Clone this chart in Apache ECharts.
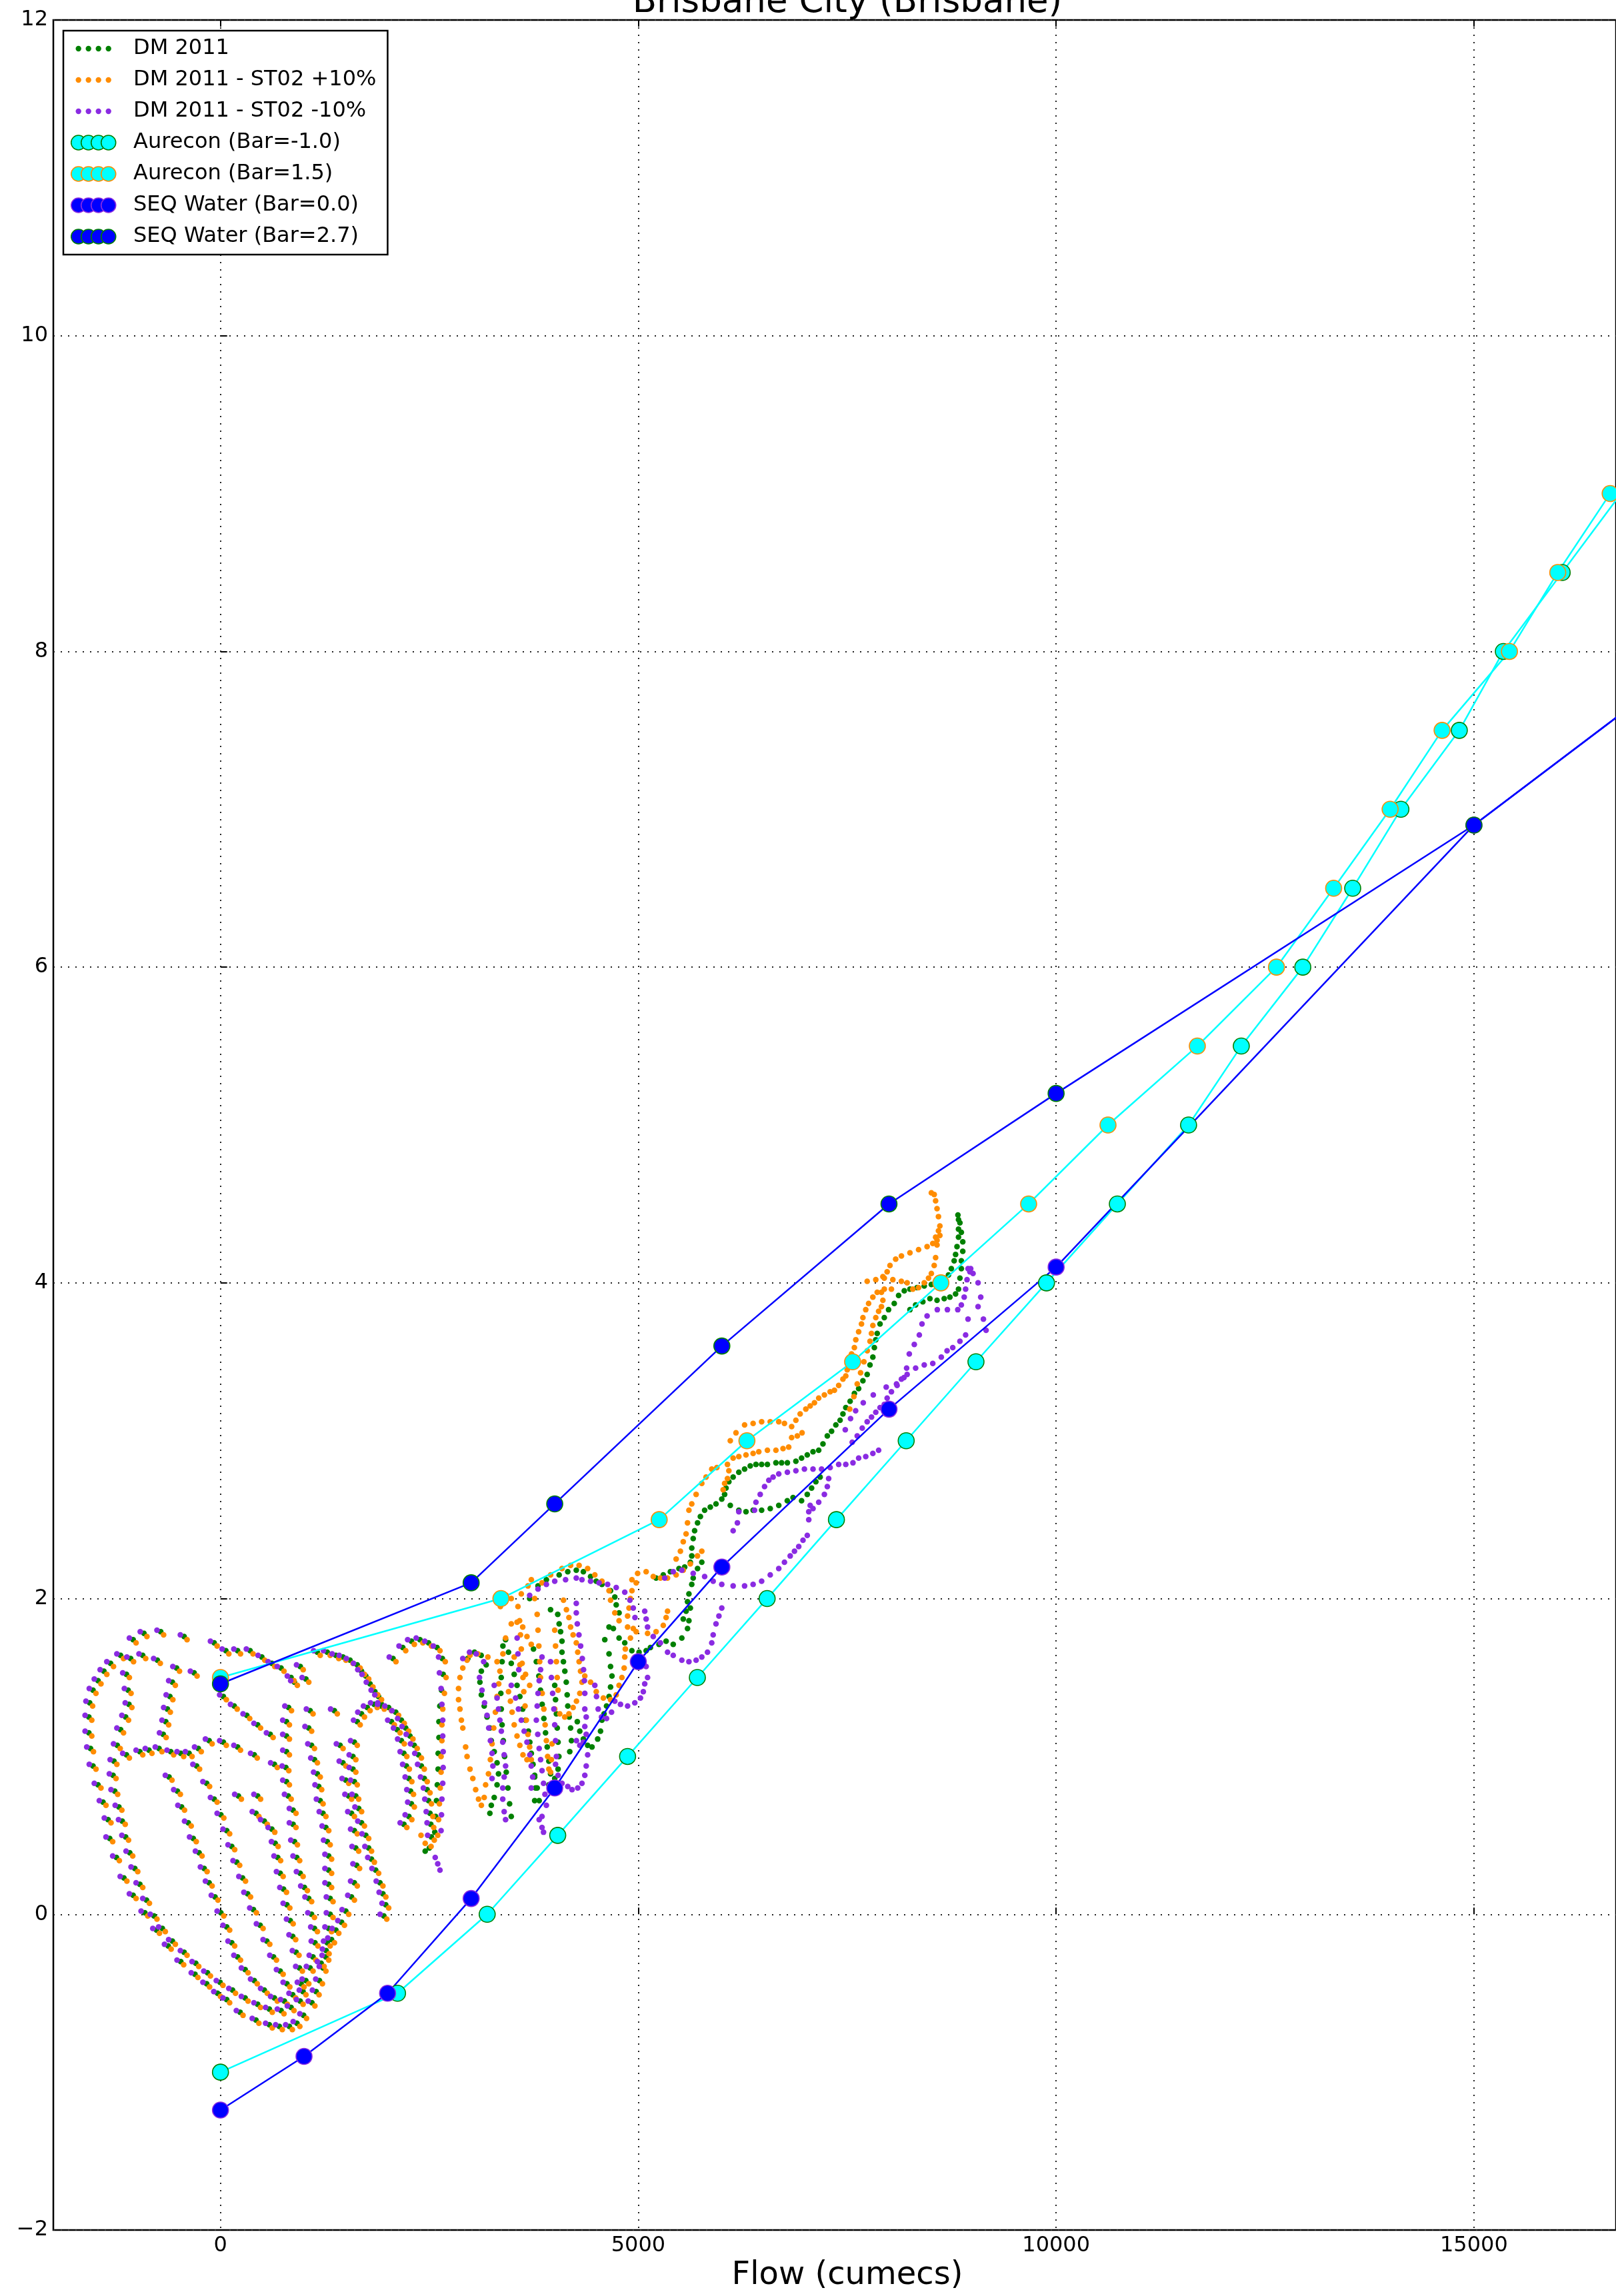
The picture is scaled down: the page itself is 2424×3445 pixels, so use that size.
<!DOCTYPE html>
<html lang="en">
<head>
<meta charset="UTF-8">
<title>Brisbane City (Brisbane)</title>
<script src="https://cdn.jsdelivr.net/npm/echarts@6/dist/echarts.min.js"></script>
<style>
  html, body { margin: 0; padding: 0; background: #fff; }
  #chart { width: 2424px; height: 3445px; }
</style>
</head>
<body>
<div id="chart"></div>
<script>
// axis ticks
var xTicks = [0, 5000, 10000, 15000];
var yTicks = [-2, 0, 2, 4, 6, 8, 10, 12];

// Aurecon rating curves (flow, level)
var aurLoX = [0, 2119, 3192, 4036, 4872, 5707, 6542, 7371, 8206, 9041, 9885, 10733, 11585, 12216, 12952, 13549, 14126, 14825, 15352, 16056, 16760];
var aurLoY = [-1.0, -0.5, 0.0, 0.5, 1.0, 1.5, 2.0, 2.5, 3.0, 3.5, 4.0, 4.5, 5.0, 5.5, 6.0, 6.5, 7.0, 7.5, 8.0, 8.5, 9.0];
var aurHiX = [0, 3356, 5250, 6300, 7565, 8621, 9671, 10621, 11690, 12637, 13321, 13997, 14619, 15425, 16003, 16630];
var aurHiY = [1.5, 2.0, 2.5, 3.0, 3.5, 4.0, 4.5, 5.0, 5.5, 6.0, 6.5, 7.0, 7.5, 8.0, 8.5, 9.0];

// SEQ Water rating curves
var seqLoX = [0, 1000, 2000, 3000, 4000, 5000, 6000, 8000, 10000, 15000, 17000];
var seqLoY = [-1.24, -0.9, -0.5, 0.1, 0.8, 1.6, 2.2, 3.2, 4.1, 6.9, 7.7];
var seqHiX = [0, 3000, 4000, 6000, 8000, 10000, 15000, 17000];
var seqHiY = [1.46, 2.1, 2.6, 3.6, 4.5, 5.2, 6.9, 7.7];

// DM 2011 modelled stage/flow
var dmBase = [
[-75,1.72],[-435,1.76],[-715,1.79],[-915,1.78],[-1045,1.74],[-1195,1.64],[-1315,1.59],[-1395,1.54],[-1465,1.48],[-1525,1.42],[-1565,1.34],[-1575,1.25],[-1575,1.15],[-1555,1.05],[-1525,0.94],[-1465,0.82],[-1405,0.71],[-1345,0.60],[-1325,0.48],[-1245,0.36],[-1155,0.23],[-1045,0.12],[-905,0.01],[-765,-0.10],[-625,-0.20],[-475,-0.30],[-305,-0.38],[-165,-0.44],[-35,-0.50],[75,-0.54],[235,-0.62],[425,-0.67],[585,-0.70],[705,-0.71],[825,-0.71],[915,-0.69],[995,-0.64],
[-755,1.61],[-930,1.64],[-1075,1.62],[-1125,1.52],[-1105,1.42],[-1095,1.33],[-1135,1.25],[-1195,1.17],[-1235,1.07],[-1275,0.97],[-1285,0.88],[-1265,0.78],[-1215,0.68],[-1175,0.59],[-1135,0.49],[-1085,0.39],[-1025,0.29],[-965,0.19],[-885,0.09],[-795,-0.01],[-695,-0.09],[-575,-0.17],[-435,-0.24],[-295,-0.31],[-155,-0.37],[-5,-0.43],[145,-0.48],[295,-0.53],[445,-0.57],[585,-0.60],[725,-0.61],[845,-0.59],
[-315,1.53],[-525,1.56],[-575,1.47],[-605,1.38],[-635,1.30],[-655,1.22],[-685,1.14],[-855,1.04],[-965,1.03],[-1125,1.01],[-735,1.05],[-595,1.03],[-475,1.02],[-375,1.02],[-265,1.05],[-135,1.10],[35,1.09],[205,1.06],[405,1.01],[645,0.95],
[-615,0.87],[-515,0.78],[-465,0.68],[-385,0.58],[-325,0.48],[-255,0.39],[-195,0.29],[-135,0.20],[-65,0.11],[5,0.01],[75,-0.08],[135,-0.18],[205,-0.27],[295,-0.35],[405,-0.42],[525,-0.48],[645,-0.53],[765,-0.55],
[-285,0.94],[-165,0.83],[-75,0.73],[5,0.63],[75,0.53],[135,0.43],[195,0.33],[265,0.23],[325,0.13],[395,0.03],[475,-0.07],[555,-0.17],[635,-0.27],[715,-0.36],[795,-0.44],[865,-0.51],
[35,1.38],[165,1.32],[315,1.26],[445,1.20],[595,1.14],[215,0.75],[445,0.75],[425,0.64],[525,0.59],[615,0.54],[655,0.45],[685,0.36],[715,0.26],[755,0.16],[795,0.06],[835,-0.04],[865,-0.14],[905,-0.24],[945,-0.34],[965,-0.44],
[65,1.67],[205,1.67],[355,1.67],[495,1.63],[615,1.59],[725,1.56],[845,1.50],
[955,1.57],[885,1.47],[815,1.31],[790,1.22],[790,1.13],[790,1.03],[783,0.93],[790,0.84],[811,0.75],[869,0.66],[869,0.57],[886,0.46],[913,0.36],[954,0.26],[1005,0.17],[1056,0.10],[1090,0.00],[1125,-0.09],[1131,-0.18],[1107,-0.27],[1073,-0.34],[1022,-0.42],[988,-0.49],[954,-0.55],
[1022,1.49],[1073,1.29],[1056,1.18],[1090,1.07],[1125,0.98],[1159,0.89],[1176,0.81],[1193,0.72],[1227,0.64],[1261,0.55],[1278,0.46],[1295,0.37],[1295,0.28],[1295,0.19],[1312,0.10],[1312,0.00],[1295,-0.09],[1278,-0.18],[1261,-0.27],[1227,-0.34],[1185,-0.42],[1145,-0.49],[1095,-0.56],
[1363,1.29],[1432,1.07],[1466,0.96],[1500,0.85],[1534,0.75],[1568,0.64],[1602,0.53],[1619,0.42],[1630,0.31],[1602,0.20],[1568,0.11],[1500,0.02],[1449,-0.05],[1381,-0.10],[1329,-0.16],[1265,-0.23],[1205,-0.31],
[1159,1.66],[1278,1.66],[1381,1.64],[1466,1.63],[1551,1.61],[1637,1.58],[1688,1.54],[1739,1.51],[1790,1.46],[1848,1.41],[1892,1.38],[1925,1.32],
[1637,1.22],[1688,1.27],[1756,1.31],[1841,1.33],[1927,1.33],[2012,1.31],[2097,1.28],[2165,1.23],[2217,1.18],[2268,1.13],[2319,1.07],[2370,1.01],[2404,0.94],[2439,0.86],[2473,0.79],[2490,0.72],[2507,0.64],[2517,0.57],[2524,0.49],[2500,0.42],[2450,0.40],
[1602,1.09],[1585,1.00],[1585,0.92],[1602,0.84],[1619,0.75],[1654,0.67],[1688,0.58],[1739,0.50],[1773,0.42],[1807,0.35],[1858,0.28],[1909,0.20],[1944,0.13],[1978,0.06],[1955,-0.01],
[2065,1.62],[2182,1.69],[2285,1.73],[2387,1.74],[2490,1.72],[2592,1.69],[2655,1.62],[2665,1.52],[2645,1.42],[2625,1.32],[2615,1.22],[2615,1.12],[2605,1.02],[2605,0.92],[2595,0.82],[2585,0.72],[2575,0.62],[2565,0.52],
[2046,1.22],[2115,1.17],[2165,1.10],[2195,1.02],[2225,0.94],[2255,0.86],[2275,0.78],[2285,0.70],[2255,0.62],[2195,0.57],
[3122,1.54],[3105,1.47],[3122,1.39],[3156,1.32],[3190,1.25],[3224,1.18],[3241,1.10],[3276,1.03],[3310,0.96],[3327,0.89],[3310,0.82],[3276,0.74],[3241,0.69],[3224,0.64],
[2960,1.62],[3040,1.66],[3120,1.64],[3180,1.58],
[3380,1.70],[3370,1.60],[3360,1.50],[3355,1.40],[3360,1.30],[3370,1.20],[3385,1.10],[3400,1.00],[3420,0.90],[3440,0.80],[3460,0.70],[3480,0.62],
[3412,1.74],[3447,1.66],[3480,1.59],[3515,1.52],[3549,1.45],[3583,1.38],[3617,1.30],[3651,1.23],[3685,1.16],[3702,1.09],[3720,1.02],[3740,0.95],[3760,0.88],[3770,0.80],[3760,0.72],
[3746,1.68],[3780,1.60],[3810,1.51],[3830,1.42],[3850,1.33],[3870,1.24],[3890,1.15],[3910,1.06],[3930,0.97],[3950,0.89],[3930,0.82],
[3760,0.87],[3790,0.80],[3814,0.72],
[4000,1.45],[4010,1.36],[4020,1.27],[4030,1.18],[4040,1.09],[4050,1.00],[4040,0.92],[4000,0.86],
[3950,1.93],[4036,1.90],[4053,1.84],[4070,1.79],[4087,1.73],[4087,1.66],[4104,1.60],[4121,1.54],[4138,1.47],[4149,1.39],[4156,1.32],[4173,1.25],[4190,1.18],[4200,1.10],[4180,1.03],
[4599,1.74],[4650,1.82],[4702,1.81],[4770,1.75],[4838,1.72],[4923,1.67],[5009,1.66],[5094,1.67],[5145,1.69],[5248,1.71],[5333,1.73],[5418,1.71],[5521,1.75],[5589,1.81],[5606,1.86],[5623,1.94],
[4650,1.65],[4668,1.57],[4685,1.51],[4668,1.44],[4650,1.38],[4620,1.32],[4590,1.27],
[4565,1.23],[4548,1.16],[4514,1.11],[4446,1.06],[4394,1.07],[4343,1.11],[4300,1.16],[4270,1.22],
[3700,2.00],[3800,2.08],[3900,2.12],[4053,2.15],[4156,2.17],[4258,2.18],[4343,2.17],[4429,2.14],[4497,2.11],[4565,2.09],[4668,2.05],[4719,2.01],[4736,1.96],[4770,1.91],
[5213,2.13],[5299,2.15],[5384,2.17],[5487,2.19],[5555,2.20],[5623,2.23],
[5538,1.87],[5572,1.92],[5589,1.98],[5606,2.03],[5640,2.09],[5657,2.13],[5709,2.19],[5760,2.23],
[5640,2.27],[5640,2.32],[5657,2.38],[5674,2.43],[5709,2.48],[5743,2.52],[5794,2.56],[5862,2.58],[5930,2.60],[5999,2.63],[6033,2.66],[6050,2.70],[6084,2.74],[6135,2.77],[6203,2.80],[6272,2.82],[6340,2.84],[6408,2.85],[6476,2.85],[6545,2.85],[6647,2.86],[6715,2.86],[6784,2.86],[6886,2.87],
[6101,2.59],[6203,2.56],[6289,2.55],[6374,2.56],[6476,2.56],[6579,2.57],[6681,2.59],[6783,2.62],[6852,2.64],[6954,2.62],[7022,2.66],[7074,2.70],[7125,2.74],[7176,2.77],
[6954,2.89],[7022,2.91],[7091,2.93],[7159,2.94],[7210,2.98],[7262,3.03],[7313,3.06],[7364,3.10],[7415,3.13],[7449,3.17],[7483,3.21],[7535,3.25],[7586,3.30],[7637,3.33],[7688,3.38],[7739,3.42],[7773,3.48],[7807,3.53],[7825,3.59],[7842,3.64],[7859,3.68],[7893,3.74],[7944,3.78],[7995,3.83],[8063,3.87],[8115,3.92],[8183,3.95],
[8251,3.96],[8336,3.97],[8422,3.98],[8507,3.99],[8593,4.00],[8661,4.03],[8712,4.05],[8746,4.09],[8780,4.14],[8797,4.18],[8814,4.23],[8832,4.29],[8832,4.34],[8832,4.40],[8825,4.43],
[8849,4.38],[8866,4.32],[8883,4.26],[8883,4.20],[8866,4.14],[8866,4.09],[8849,4.03],[8832,3.96],
[8797,3.93],[8729,3.91],[8661,3.90],[8575,3.89],[8490,3.90],[8405,3.88],[8319,3.86],[8251,3.83]
];

var dmPlus = [
[-40,1.70],[-400,1.74],[-680,1.77],[-880,1.76],[-1010,1.72],[-1160,1.62],[-1280,1.57],[-1360,1.52],[-1430,1.46],[-1490,1.40],[-1530,1.32],[-1540,1.23],[-1540,1.13],[-1520,1.03],[-1490,0.92],[-1430,0.80],[-1370,0.69],[-1310,0.58],[-1290,0.46],[-1210,0.34],[-1120,0.21],[-1010,0.10],[-870,-0.01],[-730,-0.12],[-590,-0.22],[-440,-0.32],[-270,-0.40],[-130,-0.46],[0,-0.52],[110,-0.56],[270,-0.64],[460,-0.69],[620,-0.72],[740,-0.73],[860,-0.73],[950,-0.71],[1030,-0.66],
[-720,1.59],[-895,1.62],[-1040,1.60],[-1090,1.50],[-1070,1.40],[-1060,1.31],[-1100,1.23],[-1160,1.15],[-1200,1.05],[-1240,0.95],[-1250,0.86],[-1230,0.76],[-1180,0.66],[-1140,0.57],[-1100,0.47],[-1050,0.37],[-990,0.27],[-930,0.17],[-850,0.07],[-760,-0.03],[-660,-0.11],[-540,-0.19],[-400,-0.26],[-260,-0.33],[-120,-0.39],[30,-0.45],[180,-0.50],[330,-0.55],[480,-0.59],[620,-0.62],[760,-0.63],[880,-0.61],
[-280,1.51],[-490,1.54],[-540,1.45],[-570,1.36],[-600,1.28],[-620,1.20],[-650,1.12],[-820,1.02],[-930,1.01],[-1090,0.99],[-700,1.03],[-560,1.01],[-440,1.00],[-340,1.00],[-230,1.03],[-100,1.08],[70,1.07],[240,1.04],[440,0.99],[680,0.93],
[-580,0.85],[-480,0.76],[-430,0.66],[-350,0.56],[-290,0.46],[-220,0.37],[-160,0.27],[-100,0.18],[-30,0.09],[40,-0.01],[110,-0.10],[170,-0.20],[240,-0.29],[330,-0.37],[440,-0.44],[560,-0.50],[680,-0.55],[800,-0.57],
[-250,0.92],[-130,0.81],[-40,0.71],[40,0.61],[110,0.51],[170,0.41],[230,0.31],[300,0.21],[360,0.11],[430,0.01],[510,-0.09],[590,-0.19],[670,-0.29],[750,-0.38],[830,-0.46],[900,-0.53],
[70,1.36],[200,1.30],[350,1.24],[480,1.18],[630,1.12],[250,0.73],[480,0.73],[460,0.62],[560,0.57],[650,0.52],[690,0.43],[720,0.34],[750,0.24],[790,0.14],[830,0.04],[870,-0.06],[900,-0.16],[940,-0.26],[980,-0.36],[1000,-0.46],
[100,1.65],[240,1.65],[390,1.65],[530,1.61],[650,1.57],[760,1.54],[880,1.48],
[990,1.55],[920,1.45],[850,1.29],[825,1.20],[825,1.11],[825,1.01],[818,0.91],[825,0.82],[846,0.73],[904,0.64],[904,0.55],[921,0.44],[948,0.34],[989,0.24],[1040,0.15],[1091,0.08],[1125,-0.02],[1160,-0.11],[1166,-0.20],[1142,-0.29],[1108,-0.36],[1057,-0.44],[1023,-0.51],[989,-0.57],
[1057,1.47],[1108,1.27],[1091,1.16],[1125,1.05],[1160,0.96],[1194,0.87],[1211,0.79],[1228,0.70],[1262,0.62],[1296,0.53],[1313,0.44],[1330,0.35],[1330,0.26],[1330,0.17],[1347,0.08],[1347,-0.02],[1330,-0.11],[1313,-0.20],[1296,-0.29],[1262,-0.36],[1220,-0.44],[1180,-0.51],[1130,-0.58],
[1398,1.27],[1467,1.05],[1501,0.94],[1535,0.83],[1569,0.73],[1603,0.62],[1637,0.51],[1654,0.40],[1665,0.29],[1637,0.18],[1603,0.09],[1535,0.00],[1484,-0.07],[1416,-0.12],[1364,-0.18],[1300,-0.25],[1240,-0.33],
[1194,1.64],[1313,1.64],[1416,1.62],[1501,1.61],[1586,1.59],[1672,1.56],[1723,1.52],[1774,1.49],[1825,1.44],[1883,1.39],[1927,1.36],[1960,1.30],
[1672,1.20],[1723,1.25],[1791,1.29],[1876,1.31],[1962,1.31],[2047,1.29],[2132,1.26],[2200,1.21],[2252,1.16],[2303,1.11],[2354,1.05],[2405,0.99],[2439,0.92],[2474,0.84],[2508,0.77],[2525,0.70],[2542,0.62],[2552,0.55],[2559,0.47],[2520,0.43],[2450,0.45],[2400,0.50],
[1637,1.07],[1620,0.98],[1620,0.90],[1637,0.82],[1654,0.73],[1689,0.65],[1723,0.56],[1774,0.48],[1808,0.40],[1842,0.33],[1893,0.26],[1944,0.18],[1979,0.11],[2013,0.04],[1990,-0.03],
[2100,1.60],[2217,1.67],[2320,1.71],[2422,1.72],[2525,1.70],[2627,1.67],[2690,1.60],[2700,1.50],[2680,1.40],[2660,1.30],[2650,1.20],[2650,1.10],[2640,1.00],[2640,0.90],[2630,0.80],[2620,0.70],[2610,0.60],[2600,0.50],
[2081,1.20],[2150,1.15],[2200,1.08],[2230,1.00],[2260,0.92],[2290,0.84],[2310,0.76],[2320,0.68],[2290,0.60],[2230,0.55],
[2986,1.64],[3080,1.65],[3200,1.63],[3310,1.60],
[2951,1.61],[2900,1.56],[2866,1.50],[2849,1.43],[2849,1.36],[2866,1.30],[2883,1.23],[2900,1.18],[2934,1.06],[2951,1.00],[2986,0.92],[3020,0.86],[3054,0.79],[3088,0.73],[3122,0.69],[3156,0.74],[3173,0.82],[3207,0.89],[3230,0.98],[3250,1.08],[3270,1.18],[3290,1.28],[3310,1.38],[3330,1.46],[3344,1.54],[3380,1.65],[3412,1.75],[3480,1.84],[3549,1.85],[3617,1.82],[3668,1.76],[3719,1.71],
[3350,1.95],[3380,2.00],[3420,2.02],[3480,2.00],
[3447,1.41],[3470,1.35],[3490,1.28],[3515,1.20],[3549,1.13],[3583,1.07],[3620,1.01],[3668,0.98],[3719,0.98],
[3515,1.63],[3583,1.58],[3651,1.52],[3700,1.45],
[3560,1.95],[3580,1.86],[3590,1.77],[3600,1.68],[3610,1.59],[3620,1.50],[3630,1.41],[3645,1.32],[3660,1.23],[3680,1.14],[3700,1.06],
[3760,2.00],[3790,1.90],[3800,1.80],[3810,1.70],[3820,1.60],[3830,1.50],[3850,1.40],[3870,1.30],[3885,1.20],[3900,1.10],[3915,1.00],[3930,0.92],[3951,0.90],[3960,0.98],[3968,1.08],
[4000,1.80],[4010,1.70],[4020,1.60],[4030,1.50],[4040,1.42],
[4105,1.99],[4140,1.93],[4170,1.88],[4190,1.82],[4220,1.77],[4258,1.72],[4275,1.66],[4292,1.60],[4309,1.54],[4326,1.47],[4300,1.40],[4260,1.35],[4220,1.31],[4170,1.27],[4120,1.25],[4060,1.27],[4000,1.30],
[4360,1.51],[4429,1.47],[4497,1.41],[4582,1.37],[4668,1.36],[4736,1.39],[4770,1.45],[4804,1.50],[4831,1.56],[4838,1.63],[4845,1.68],[4906,1.75],[4940,1.81],
[4668,1.99],[4719,1.91],[4770,1.86],[4872,1.82],[4975,1.79],[5111,1.78],[5213,1.79],[5299,1.83],[5333,1.88],[5350,1.92],
[3600,2.03],[3680,2.08],[3720,2.12],
[3848,2.10],[3951,2.15],[4087,2.19],[4190,2.21],[4292,2.21],[4394,2.19],[4480,2.15],[4565,2.11],[4650,2.05],
[4924,2.12],[4992,2.16],[5094,2.17],[5179,2.14],[5265,2.13],[5350,2.13],[5453,2.15],[5538,2.18],[5623,2.22],[5708,2.27],[5760,2.30],
[4975,2.10],[4924,2.05],[4906,2.00],[4889,1.94],[4872,1.89],
[5453,2.25],[5504,2.30],[5538,2.36],[5572,2.41],[5589,2.48],[5606,2.56],[5640,2.60],[5692,2.66],[5760,2.73],[5811,2.77],[5879,2.82],[5940,2.83],
[6016,2.69],[6033,2.73],[6067,2.76],[6084,2.81],
[6067,2.85],[6135,2.89],[6203,2.90],[6289,2.91],[6374,2.92],[6442,2.93],[6545,2.94],[6647,2.94],[6732,2.95],[6800,2.96],
[6101,3.00],[6169,3.05],[6272,3.10],[6374,3.11],[6476,3.12],[6579,3.12],[6681,3.12],[6749,3.11],
[6835,3.02],[6903,3.03],[6960,3.05],
[6835,3.09],[6886,3.13],[6937,3.17],[7005,3.20],[7057,3.22],[7108,3.24],[7159,3.27],[7227,3.29],[7296,3.31],[7347,3.32],[7398,3.35],[7449,3.39],[7483,3.41],[7500,3.45],[7517,3.50],[7552,3.55],[7586,3.59],[7603,3.64],[7637,3.69],[7671,3.74],[7688,3.78],[7722,3.83],[7756,3.87],[7807,3.91],[7859,3.94],[7944,3.96],[8029,3.96],
[7739,4.01],[7842,4.02],[7944,4.03],[8046,4.02],[8148,4.01],[8217,4.00],
[7927,4.04],[7978,4.07],[8012,4.11],
[8080,4.15],[8149,4.17],[8251,4.19],[8354,4.21],[8456,4.23],[8524,4.25],[8575,4.27],[8609,4.30],
[8507,4.57],[8541,4.56],[8558,4.52],[8575,4.47],[8592,4.42],[8609,4.36],[8592,4.33],[8558,4.29],
[8575,4.24],[8558,4.16],[8541,4.11],[8507,4.06],[8473,4.03],[8422,4.00],[8354,3.97],[8285,3.96],
[7530,3.20],[7580,3.28],[7620,3.36],[7660,3.43],[7700,3.50],[7740,3.57],[7773,3.63],[7790,3.68],[7807,3.73],[7842,3.78],[7876,3.82],[7910,3.85],[7927,3.89],[7910,3.94]
];

var dmMinus = [
[-120,1.73],[-480,1.77],[-760,1.80],[-960,1.79],[-1090,1.75],[-1240,1.65],[-1360,1.60],[-1440,1.55],[-1510,1.49],[-1570,1.43],[-1610,1.35],[-1620,1.26],[-1620,1.16],[-1600,1.06],[-1570,0.95],[-1510,0.83],[-1450,0.72],[-1390,0.61],[-1370,0.49],[-1290,0.37],[-1200,0.24],[-1090,0.13],[-950,0.02],[-810,-0.09],[-670,-0.19],[-520,-0.29],[-350,-0.37],[-210,-0.43],[-80,-0.49],[30,-0.53],[190,-0.61],[380,-0.66],[540,-0.69],[660,-0.70],[780,-0.70],[870,-0.68],[950,-0.63],
[-800,1.62],[-975,1.65],[-1120,1.63],[-1170,1.53],[-1150,1.43],[-1140,1.34],[-1180,1.26],[-1240,1.18],[-1280,1.08],[-1320,0.98],[-1330,0.89],[-1310,0.79],[-1260,0.69],[-1220,0.60],[-1180,0.50],[-1130,0.40],[-1070,0.30],[-1010,0.20],[-930,0.10],[-840,0.00],[-740,-0.08],[-620,-0.16],[-480,-0.23],[-340,-0.30],[-200,-0.36],[-50,-0.42],[100,-0.47],[250,-0.52],[400,-0.56],[540,-0.59],[680,-0.60],[800,-0.58],
[-360,1.54],[-570,1.57],[-620,1.48],[-650,1.39],[-680,1.31],[-700,1.23],[-730,1.15],[-900,1.05],[-1010,1.04],[-1170,1.02],[-780,1.06],[-640,1.04],[-520,1.03],[-420,1.03],[-310,1.06],[-180,1.11],[-10,1.10],[160,1.07],[360,1.02],[600,0.96],
[-660,0.88],[-560,0.79],[-510,0.69],[-430,0.59],[-370,0.49],[-300,0.40],[-240,0.30],[-180,0.21],[-110,0.12],[-40,0.02],[30,-0.07],[90,-0.17],[160,-0.26],[250,-0.34],[360,-0.41],[480,-0.47],[600,-0.52],[720,-0.54],
[-330,0.95],[-210,0.84],[-120,0.74],[-40,0.64],[30,0.54],[90,0.44],[150,0.34],[220,0.24],[280,0.14],[350,0.04],[430,-0.06],[510,-0.16],[590,-0.26],[670,-0.35],[750,-0.43],[820,-0.50],
[-10,1.39],[120,1.33],[270,1.27],[400,1.21],[550,1.15],[170,0.76],[400,0.76],[380,0.65],[480,0.60],[570,0.55],[610,0.46],[640,0.37],[670,0.27],[710,0.17],[750,0.07],[790,-0.03],[820,-0.13],[860,-0.23],[900,-0.33],[920,-0.43],
[20,1.68],[160,1.68],[310,1.68],[450,1.64],[570,1.60],[680,1.57],[800,1.51],
[910,1.58],[840,1.48],[770,1.32],[745,1.23],[745,1.14],[745,1.04],[738,0.94],[745,0.85],[766,0.76],[824,0.67],[824,0.58],[841,0.47],[868,0.37],[909,0.27],[960,0.18],[1011,0.11],[1045,0.01],[1080,-0.08],[1086,-0.17],[1062,-0.26],[1028,-0.33],[977,-0.41],[943,-0.48],[909,-0.54],
[977,1.50],[1028,1.30],[1011,1.19],[1045,1.08],[1080,0.99],[1114,0.90],[1131,0.82],[1148,0.73],[1182,0.65],[1216,0.56],[1233,0.47],[1250,0.38],[1250,0.29],[1250,0.20],[1267,0.11],[1267,0.01],[1250,-0.08],[1233,-0.17],[1216,-0.26],[1182,-0.33],[1140,-0.41],[1100,-0.48],[1050,-0.55],
[1318,1.30],[1387,1.08],[1421,0.97],[1455,0.86],[1489,0.76],[1523,0.65],[1557,0.54],[1574,0.43],[1585,0.32],[1557,0.21],[1523,0.12],[1455,0.03],[1404,-0.04],[1336,-0.09],[1284,-0.15],[1220,-0.22],[1160,-0.30],
[1114,1.67],[1233,1.67],[1336,1.65],[1421,1.64],[1506,1.62],[1592,1.59],[1643,1.55],[1694,1.52],[1745,1.47],[1803,1.42],[1847,1.39],[1880,1.33],
[1592,1.23],[1643,1.28],[1711,1.32],[1796,1.34],[1882,1.34],[1967,1.32],[2052,1.29],[2120,1.24],[2172,1.19],[2223,1.14],[2274,1.08],[2325,1.02],[2359,0.95],[2394,0.87],[2428,0.80],[2445,0.73],[2462,0.65],[2472,0.58],[2479,0.50],
[2627,0.28],[2600,0.32],[2570,0.36],
[1557,1.10],[1540,1.01],[1540,0.93],[1557,0.85],[1574,0.76],[1609,0.68],[1643,0.59],[1694,0.51],[1728,0.43],[1762,0.36],[1813,0.29],[1864,0.21],[1899,0.14],[1933,0.07],[1910,0.00],
[2020,1.63],[2137,1.70],[2240,1.74],[2342,1.75],[2445,1.73],[2547,1.70],[2610,1.63],[2620,1.53],[2640,1.43],[2650,1.33],[2660,1.23],[2660,1.13],[2665,1.03],[2665,0.93],[2660,0.83],[2650,0.73],[2645,0.63],[2640,0.53],
[2001,1.23],[2070,1.18],[2120,1.11],[2150,1.03],[2180,0.95],[2210,0.87],[2230,0.79],[2240,0.71],[2210,0.63],[2150,0.58],
[2900,1.62],[2980,1.66],[3060,1.65],[3150,1.60],
[3100,1.50],[3130,1.42],[3160,1.34],[3190,1.26],[3210,1.18],[3230,1.10],[3250,1.02],[3260,0.94],[3250,0.86],
[3276,1.45],[3310,1.37],[3327,1.30],[3344,1.23],[3361,1.16],[3378,1.09],[3395,1.01],[3412,0.94],[3395,0.87],[3378,0.80],[3378,0.73],[3395,0.65],[3412,0.60],
[3550,1.75],[3560,1.65],[3570,1.55],
[3480,1.45],[3532,1.37],[3566,1.30],[3600,1.23],[3634,1.16],[3668,1.09],[3702,1.01],[3719,0.94],[3736,0.87],[3719,0.80],
[3780,1.23],[3797,1.14],[3814,1.05],[3831,0.98],[3848,0.91],[3866,0.83],[3883,0.76],[3900,0.69],[3848,0.62],[3814,0.60],[3848,0.55],[3866,0.52],
[3848,1.63],[3831,1.55],[3814,1.48],[3800,1.40],[3790,1.32],
[3950,1.60],[3960,1.50],[3975,1.40],[3990,1.30],[4000,1.20],[4010,1.10],[4020,1.00],
[4258,1.97],[4258,1.91],[4270,1.84],[4290,1.77],[4310,1.70],[4330,1.62],[4345,1.55],[4355,1.48],[4360,1.40],[4360,1.30],[4377,1.25],[4360,1.19],[4377,1.14],[4343,1.09],[4300,1.07],[4260,1.10],
[4394,1.01],[4377,0.94],[4360,0.88],[4326,0.83],[4275,0.80],[4207,0.79],[4156,0.81],[4087,0.83],[4040,0.88],[4010,0.95],
[4480,1.45],[4500,1.38],[4520,1.30],[4560,1.25],[4620,1.24],[4680,1.28],
[4719,1.35],[4787,1.33],[4872,1.32],[4958,1.34],[5026,1.37],[5060,1.41],[5077,1.46],[5111,1.50],[5094,1.57],
[5077,1.92],[5094,1.87],[5111,1.82],[5179,1.76],[5265,1.72],[5350,1.66],[5418,1.64],[5521,1.61],[5606,1.60],[5692,1.61],[5760,1.63],[5828,1.66],[5879,1.72],[5896,1.77],[5930,1.84],[5965,1.89],[5999,1.94],
[3700,2.02],[3800,2.06],[3900,2.09],[4000,2.11],[4130,2.12],[4258,2.13],[4326,2.12],[4429,2.11],[4531,2.10],[4633,2.09],[4736,2.07],[4838,2.04],[4900,1.99],[4940,1.94],[4960,1.88],
[5316,2.13],[5418,2.17],[5521,2.18],[5657,2.16],[5794,2.14],[5896,2.11],[5999,2.09],[6135,2.08],[6272,2.08],[6374,2.09],[6476,2.11],[6579,2.15],[6681,2.19],[6749,2.23],[6818,2.27],[6869,2.30],[6920,2.33],[6971,2.37],[7022,2.40],
[6135,2.43],[6186,2.48],[6203,2.55],
[7040,2.50],[7040,2.55],[7057,2.59],[7091,2.57],[7159,2.61],[7227,2.66],[7262,2.71],[7278,2.76],
[6391,2.56],[6408,2.61],[6459,2.66],[6511,2.71],[6562,2.75],[6613,2.77],[6681,2.79],[6784,2.80],[6886,2.81],[6988,2.82],[7091,2.82],[7193,2.82],[7296,2.83],[7398,2.85],[7483,2.85],[7569,2.86],[7637,2.89],[7722,2.90],[7807,2.92],[7876,2.94],
[7477,3.07],[7540,3.14],[7601,3.19],[7692,3.24],[7812,3.29],[7967,3.34],[8090,3.36],[8179,3.40],[8211,3.46],[8243,3.55],[8303,3.61],[8363,3.67],[8395,3.74],[8456,3.79],[8578,3.83],[8699,3.83],[8823,3.83],[8946,3.77],
[8946,4.09],[8978,4.09],[9006,4.06],[9066,4.00],[9098,3.91],[9066,3.85],[9130,3.77],[9162,3.70],
[8968,4.07],[8934,4.02],[8917,3.96],[8900,3.91],[8866,3.86],
[8917,3.67],[8849,3.63],[8763,3.59],[8695,3.57],[8626,3.53],[8524,3.49],[8422,3.48],[8319,3.46],[8217,3.42],[8149,3.39],[8097,3.35],[8029,3.31],[7978,3.27],[7944,3.23],[7893,3.21],[7842,3.18],[7791,3.15],[7739,3.12],[7680,3.08],[7620,3.03],[7560,2.99]
];

function zip(xs, ys) {
    var out = [];
    for (var i = 0; i < xs.length; i++) out.push([xs[i], ys[i]]);
    return out;
}

// legend icons drawn like the matplotlib ones (4 markers side by side)
function dotsIcon(color) {
    var s = "<svg xmlns='http://www.w3.org/2000/svg' width='89' height='26'>";
    [11.7, 26.7, 41.7, 56.7].forEach(function (cx) {
        s += "<circle cx='" + cx + "' cy='13' r='4.2' fill='" + color + "'/>";
    });
    return 'image://data:image/svg+xml;charset=utf-8,' + encodeURIComponent(s + '</svg>');
}
function ringsIcon(fill, edge) {
    var s = "<svg xmlns='http://www.w3.org/2000/svg' width='89' height='26'>";
    [11.7, 26.7, 41.7, 56.7].forEach(function (cx) {
        s += "<circle cx='" + cx + "' cy='13' r='11' fill='" + fill + "' stroke='" + edge + "' stroke-width='1.6'/>";
    });
    return 'image://data:image/svg+xml;charset=utf-8,' + encodeURIComponent(s + '</svg>');
}

var GREEN = '#008000', ORANGE = '#FF8C00', PURPLE = '#8A2BE2', CYAN = '#00FFFF', BLUE = '#0000FF';
var FONT = 'DejaVu Sans';

var chart = echarts.init(document.getElementById('chart'), null, { renderer: 'canvas' });

function ratingSeries(name, data, lineColor, edgeColor) {
    return {
        name: name, type: 'line', data: data, z: 5,
        symbol: 'circle', symbolSize: 24, showAllSymbol: true,
        lineStyle: { color: lineColor, width: 2.5 },
        itemStyle: { color: lineColor, borderColor: edgeColor, borderWidth: 1.6 },
        emphasis: { disabled: true }
    };
}
function dmSeries(name, data, color) {
    return {
        name: name, type: 'scatter', data: data, z: 2,
        symbol: 'circle', symbolSize: 8.5,
        itemStyle: { color: color, opacity: 1 },
        emphasis: { disabled: true }
    };
}

var option = {
    animation: false,
    backgroundColor: '#fff',
    textStyle: { fontFamily: FONT },
    graphic: [{
        type: 'text', x: 1271, y: 31, z: 10,
        style: { text: 'Brisbane City (Brisbane)', fontFamily: FONT, fontSize: 53, fill: '#000',
                 textAlign: 'center', textVerticalAlign: 'bottom' }
    }],
    grid: { left: 80, right: 0, top: 30, bottom: 99, show: true, borderColor: '#000', borderWidth: 2.5, backgroundColor: 'transparent' },
    legend: {
        orient: 'vertical', left: 95, top: 46,
        padding: [11, 17, 11, 11],
        itemGap: 15, itemWidth: 89, itemHeight: 26,
        backgroundColor: '#fff', borderColor: '#000', borderWidth: 2.5,
        selectedMode: false,
        textStyle: { fontFamily: FONT, fontSize: 32, color: '#000' },
        data: [
            { name: 'DM 2011', icon: dotsIcon(GREEN) },
            { name: 'DM 2011 - ST02 +10%', icon: dotsIcon(ORANGE) },
            { name: 'DM 2011 - ST02 -10%', icon: dotsIcon(PURPLE) },
            { name: 'Aurecon (Bar=-1.0)', icon: ringsIcon(CYAN, GREEN) },
            { name: 'Aurecon (Bar=1.5)', icon: ringsIcon(CYAN, ORANGE) },
            { name: 'SEQ Water (Bar=0.0)', icon: ringsIcon(BLUE, PURPLE) },
            { name: 'SEQ Water (Bar=2.7)', icon: ringsIcon(BLUE, GREEN) }
        ]
    },
    xAxis: [{
        type: 'value', min: -2000, max: 16700, position: 'bottom',
        name: 'Flow (cumecs)', nameLocation: 'middle', nameGap: 44,
        nameTextStyle: { fontFamily: FONT, fontSize: 48, color: '#000', padding: [0, 0, 0, 38] },
        axisLine: { show: false },
        axisTick: { show: true, inside: true, length: 10, customValues: xTicks, lineStyle: { color: '#000', width: 2 } },
        axisLabel: { customValues: xTicks, fontFamily: FONT, fontSize: 32, color: '#000', margin: 8,
                     formatter: function (v) { return String(v); } },
        splitLine: { show: true, lineStyle: { color: '#222', width: 2, type: [2, 9] } }
    }, {
        type: 'value', min: -2000, max: 16700, position: 'top',
        axisLine: { show: false },
        axisTick: { show: true, inside: true, length: 10, customValues: xTicks, lineStyle: { color: '#000', width: 2 } },
        axisLabel: { show: false },
        splitLine: { show: false }
    }],
    yAxis: {
        type: 'value', min: -2, max: 12, interval: 2,
        axisLine: { show: false },
        axisTick: { show: true, inside: true, length: 10, lineStyle: { color: '#000', width: 2 } },
        axisLabel: {
            fontFamily: FONT, fontSize: 32, color: '#000', margin: 8,
            formatter: function (v) { return v < 0 ? '\u2212' + (-v) : String(v); }
        },
        splitLine: { show: true, lineStyle: { color: '#222', width: 2, type: [2, 9] } }
    },
    series: [
        dmSeries('DM 2011', dmBase, GREEN),
        dmSeries('DM 2011 - ST02 +10%', dmPlus, ORANGE),
        dmSeries('DM 2011 - ST02 -10%', dmMinus, PURPLE),
        ratingSeries('Aurecon (Bar=-1.0)', zip(aurLoX, aurLoY), CYAN, GREEN),
        ratingSeries('Aurecon (Bar=1.5)', zip(aurHiX, aurHiY), CYAN, ORANGE),
        ratingSeries('SEQ Water (Bar=0.0)', zip(seqLoX, seqLoY), BLUE, PURPLE),
        ratingSeries('SEQ Water (Bar=2.7)', zip(seqHiX, seqHiY), BLUE, GREEN)
    ]
};

chart.setOption(option);
</script>
</body>
</html>
